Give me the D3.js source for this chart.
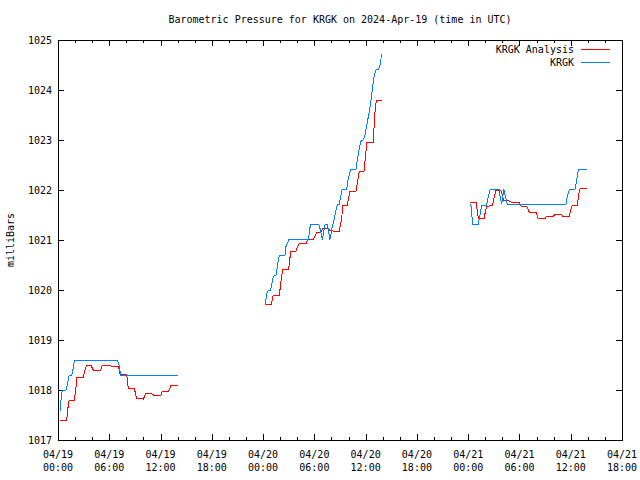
<!DOCTYPE html>
<html>
<head>
<meta charset="utf-8">
<script src="https://cdn.jsdelivr.net/npm/d3@7"></script>
<style>
  html, body { margin: 0; padding: 0; background: #fff; }
  svg { display: block; }
  text { font-family: "DejaVu Sans Mono", "Liberation Mono", monospace; font-size: 10px; fill: #000; }
</style>
</head>
<body>
<svg id="chart" width="640" height="480"></svg>
<script>
// ---- Data (hours since 2024-04-19 00:00 UTC; null = gap) ----
const chartTitle = "Barometric Pressure for KRGK on 2024-Apr-19 (time in UTC)";
const yLabel = "milliBars";
const seriesNames = ["KRGK Analysis", "KRGK"];
const yTicks = [1017, 1018, 1019, 1020, 1021, 1022, 1023, 1024, 1025];

const analysisHours = [
  0.23, 1.01, 1.13, 1.29, 1.91, 2.07, 2.22, 2.96, 3.16, 3.35, 3.86, 4.13, 4.99, 5.19, 6.09, 6.2, 7.06, 7.26, 8.04, 8.23, 8.93, 9.21, 9.99, 10.26, 10.96, 11.16, 12.05, 12.21, 12.91, 13.22, 14.08,
  null,
  24.34, 25.0, 25.12, 25.9, 26.06, 26.29, 26.96, 27.07, 27.23, 27.85, 28.0, 28.24, 29.02, 29.18, 29.88, 30.08, 30.27, 30.74, 30.97, 31.52, 31.83, 32.15, 32.92, 33.08, 33.2, 33.32, 33.86, 33.97, 34.17, 34.87, 35.03, 35.26, 35.81, 35.96, 36.13, 36.9, 37.02, 37.14, 37.3, 37.88,
  null,
  48.21, 48.92, 49.07, 49.19, 49.85, 49.97, 50.17, 50.87, 51.02, 51.22, 51.81, 52.0, 52.12, 52.58, 52.9, 53.09, 53.98, 54.15, 54.85, 55.04, 55.16, 55.94, 56.21, 56.99, 57.19, 57.97, 58.24, 58.86, 59.06, 59.84, 60.0, 60.19, 60.77, 60.93, 61.09, 61.86
];
const analysisValues = [
  1017.39, 1017.39, 1017.6, 1017.79, 1017.79, 1018.0, 1018.25, 1018.25, 1018.4, 1018.49, 1018.49, 1018.4, 1018.4, 1018.49, 1018.49, 1018.48, 1018.48, 1018.32, 1018.31, 1018.03, 1018.03, 1017.83, 1017.82, 1017.93, 1017.93, 1017.9, 1017.9, 1017.97, 1017.97, 1018.09, 1018.09,
  null,
  1019.72, 1019.72, 1019.88, 1019.89, 1020.13, 1020.41, 1020.41, 1020.53, 1020.77, 1020.77, 1020.85, 1020.93, 1020.93, 1021.0, 1021.01, 1021.08, 1021.15, 1021.15, 1021.23, 1021.23, 1021.19, 1021.18, 1021.18, 1021.33, 1021.43, 1021.7, 1021.7, 1021.8, 1021.97, 1021.97, 1022.15, 1022.37, 1022.37, 1022.63, 1022.95, 1022.95, 1023.37, 1023.67, 1023.8, 1023.8,
  null,
  1021.75, 1021.75, 1021.57, 1021.43, 1021.42, 1021.53, 1021.67, 1021.7, 1021.83, 1021.99, 1021.99, 1021.9, 1021.8, 1021.8, 1021.77, 1021.75, 1021.75, 1021.68, 1021.67, 1021.61, 1021.55, 1021.55, 1021.43, 1021.43, 1021.48, 1021.48, 1021.52, 1021.52, 1021.48, 1021.48, 1021.6, 1021.7, 1021.7, 1021.9, 1022.03, 1022.03
];

const obsHours = [
  0.27, 0.35, 0.5, 0.94, 1.13, 1.29, 1.6, 1.72, 1.91, 6.98, 7.14, 7.26, 7.33, 14.08,
  null,
  24.26, 24.42, 24.61, 24.89, 25.0, 25.2, 25.51, 25.67, 25.78, 25.9, 26.56, 26.68, 26.84, 27.0, 29.3, 29.41, 29.53, 30.51, 30.66, 30.93, 31.25, 31.52, 31.83, 32.1, 32.3, 32.53, 32.69, 32.92, 33.08, 33.24, 33.78, 33.97, 34.25, 34.87, 35.03, 35.26, 35.42, 35.73, 35.93, 36.13, 36.44, 36.71, 36.9, 37.02, 37.22, 37.53, 37.68, 37.8, 37.88,
  null,
  48.3, 48.41, 48.52, 49.19, 49.39, 49.58, 50.17, 50.36, 50.56, 51.61, 51.73, 51.92, 52.04, 52.19, 52.35, 52.58, 59.45, 59.6, 59.84, 60.5, 60.7, 60.9, 61.86
];
const obsValues = [
  1017.58, 1017.8, 1018.0, 1018.0, 1018.13, 1018.29, 1018.3, 1018.37, 1018.59, 1018.59, 1018.5, 1018.37, 1018.3, 1018.3,
  null,
  1019.7, 1019.93, 1020.0, 1020.0, 1020.1, 1020.27, 1020.3, 1020.47, 1020.6, 1020.69, 1020.69, 1020.87, 1020.93, 1021.01, 1021.01, 1021.13, 1021.31, 1021.31, 1021.23, 1021.01, 1021.31, 1021.31, 1021.01, 1021.27, 1021.4, 1021.6, 1021.71, 1021.71, 1021.87, 1022.01, 1022.01, 1022.23, 1022.42, 1022.42, 1022.6, 1022.83, 1022.97, 1023.0, 1023.1, 1023.3, 1023.57, 1023.9, 1024.17, 1024.3, 1024.4, 1024.42, 1024.5, 1024.63, 1024.71,
  null,
  1021.73, 1021.53, 1021.32, 1021.32, 1021.5, 1021.7, 1021.7, 1021.87, 1022.01, 1022.01, 1021.87, 1021.72, 1021.87, 1022.01, 1021.87, 1021.72, 1021.72, 1021.87, 1022.01, 1022.01, 1022.2, 1022.41, 1022.41
];

const seriesColors = ["#ff0000", "#0080ff"];

// ---- Layout ----
const svg = d3.select("#chart");
const plotL = 58, plotR = 622, plotT = 40, plotB = 440;
const t0 = Date.UTC(2024, 3, 19, 0, 0);
const toDate = h => new Date(t0 + h * 3600e3);

const x = d3.scaleUtc().domain([toDate(0), toDate(66)]).range([plotL, plotR]);
const y = d3.scaleLinear().domain([1017, 1025]).range([plotB, plotT]);

const fmtDay = d3.utcFormat("%m/%d");
const fmtTime = d3.utcFormat("%H:%M");

const majorTicks = d3.utcHour.every(6).range(toDate(0), toDate(66.01));
const minorTicks = d3.utcHour.every(2).range(toDate(0), toDate(66.01));

const g = svg.append("g").attr("shape-rendering", "crispEdges");

// minor x ticks (bottom and top)
minorTicks.forEach(d => {
  const xx = Math.round(x(d)) + 0.5;
  g.append("line").attr("x1", xx).attr("x2", xx).attr("y1", plotB).attr("y2", plotB - 3).attr("stroke", "#000");
  g.append("line").attr("x1", xx).attr("x2", xx).attr("y1", plotT).attr("y2", plotT + 3).attr("stroke", "#000");
});
// major x ticks
majorTicks.forEach(d => {
  const xx = Math.round(x(d)) + 0.5;
  g.append("line").attr("x1", xx).attr("x2", xx).attr("y1", plotB).attr("y2", plotB - 6).attr("stroke", "#000");
  g.append("line").attr("x1", xx).attr("x2", xx).attr("y1", plotT).attr("y2", plotT + 6).attr("stroke", "#000");
  const t = svg.append("text").attr("text-anchor", "middle");
  t.append("tspan").attr("x", x(d)).attr("y", 458).text(fmtDay(d));
  t.append("tspan").attr("x", x(d)).attr("y", 471).text(fmtTime(d));
});
// y ticks
yTicks.forEach(v => {
  const yy = Math.round(y(v)) + 0.5;
  g.append("line").attr("x1", plotL).attr("x2", plotL + 6).attr("y1", yy).attr("y2", yy).attr("stroke", "#000");
  g.append("line").attr("x1", plotR).attr("x2", plotR - 6).attr("y1", yy).attr("y2", yy).attr("stroke", "#000");
  svg.append("text").attr("x", 52).attr("y", y(v) + 3.5).attr("text-anchor", "end").text(v);
});

// frame
g.append("rect").attr("x", plotL + 0.5).attr("y", plotT + 0.5)
  .attr("width", plotR - plotL).attr("height", plotB - plotT)
  .attr("fill", "none").attr("stroke", "#000");

// title and axis label
svg.append("text").attr("x", 340).attr("y", 23).attr("text-anchor", "middle").text(chartTitle);
svg.append("text").attr("transform", "translate(14,240) rotate(-90)").attr("text-anchor", "middle").text(yLabel);

// series
const line = d3.line()
  .defined(d => d[0] !== null && d[1] !== null)
  .x(d => x(toDate(d[0])))
  .y(d => y(d[1]));

const series = [
  { hours: analysisHours, values: analysisValues },
  { hours: obsHours, values: obsValues }
];
series.forEach((s, i) => {
  const pts = s.hours.map((h, k) => [h, s.values[k]]);
  svg.append("path").attr("d", line(pts))
    .attr("fill", "none").attr("stroke", seriesColors[i]).attr("stroke-width", 1)
    .attr("shape-rendering", "crispEdges");
});

// legend
seriesNames.forEach((name, i) => {
  const ly = 49.5 + i * 13;
  svg.append("text").attr("x", 574).attr("y", ly + 3.5).attr("text-anchor", "end").text(name);
  g.append("line").attr("x1", 581).attr("x2", 610).attr("y1", ly).attr("y2", ly)
    .attr("stroke", seriesColors[i]);
});
</script>
</body>
</html>
